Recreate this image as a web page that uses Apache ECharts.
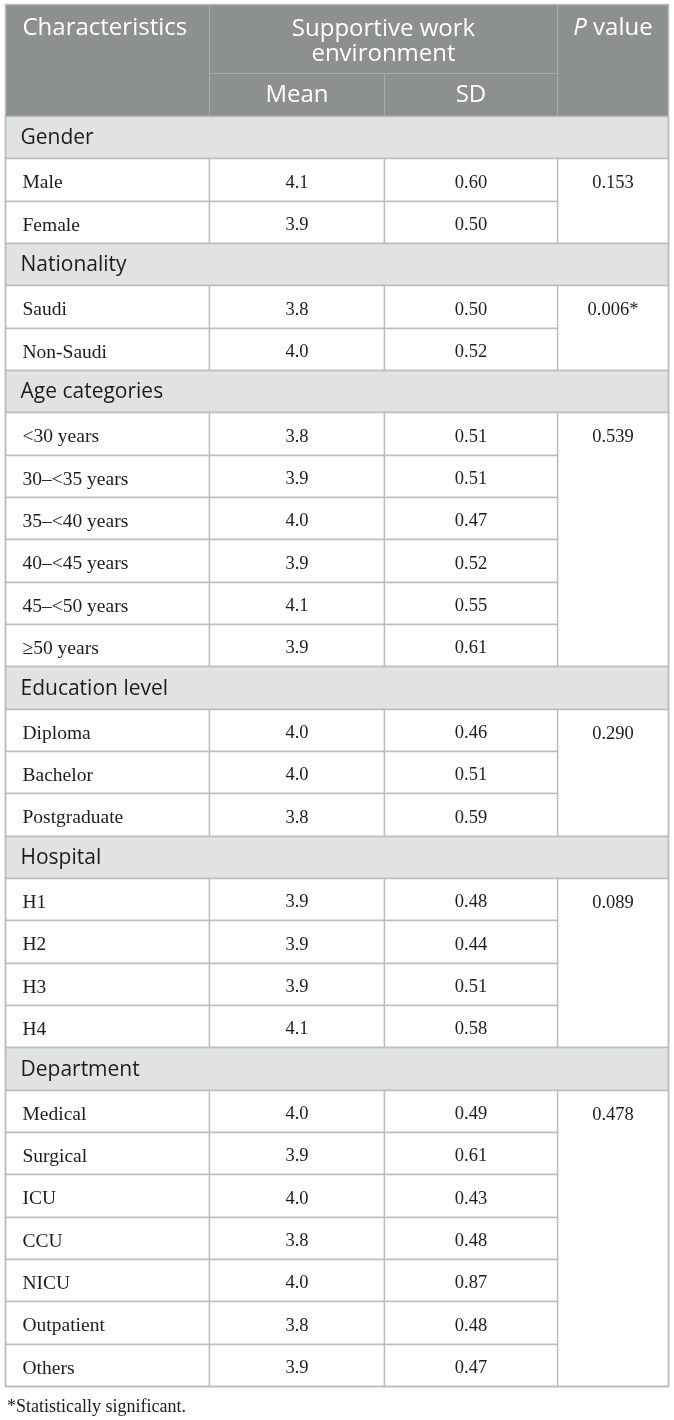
<!DOCTYPE html>
<html>
<head>
<meta charset="utf-8">
<script src="https://cdn.jsdelivr.net/npm/echarts@6/dist/echarts.min.js"></script>
<style>
html,body{margin:0;padding:0;background:#fff;}
#chart{width:674px;height:1420px;}
</style>
</head>
<body>
<div id="chart"></div>
<script>
// ---------------- data ----------------
const groupNames = ['Gender', 'Nationality', 'Age categories', 'Education level', 'Hospital', 'Department'];
const categories = ['Male', 'Female', 'Saudi', 'Non-Saudi',
  '<30 years', '30\u2013<35 years', '35\u2013<40 years', '40\u2013<45 years', '45\u2013<50 years', '\u226550 years',
  'Diploma', 'Bachelor', 'Postgraduate',
  'H1', 'H2', 'H3', 'H4',
  'Medical', 'Surgical', 'ICU', 'CCU', 'NICU', 'Outpatient', 'Others'];
const categoryGroup = [0, 0, 1, 1, 2, 2, 2, 2, 2, 2, 3, 3, 3, 4, 4, 4, 4, 5, 5, 5, 5, 5, 5, 5];
const meanValues = [4.1, 3.9, 3.8, 4.0, 3.8, 3.9, 4.0, 3.9, 4.1, 3.9, 4.0, 4.0, 3.8, 3.9, 3.9, 3.9, 4.1, 4.0, 3.9, 4.0, 3.8, 4.0, 3.8, 3.9];
const sdValues = [0.60, 0.50, 0.50, 0.52, 0.51, 0.51, 0.47, 0.52, 0.55, 0.61, 0.46, 0.51, 0.59, 0.48, 0.44, 0.51, 0.58, 0.49, 0.61, 0.43, 0.48, 0.87, 0.48, 0.47];
const groupPValues = ['0.153', '0.006*', '0.539', '0.290', '0.089', '0.478'];
const headerLabels = ['Characteristics', 'Supportive work\nenvironment', 'Mean', 'SD', 'P value'];
const footnote = '*Statistically significant.';

// ---------------- layout (not data) ----------------
const colEdges = [0, 204, 379, 552, 663];       // x-axis units
const HEADER_UNITS = 2.646;                      // header height in row units
const SUBHEADER_SPLIT = 1.63;                    // y of line under "Supportive work environment"
const SANS = '"Open Sans", "Noto Sans", sans-serif';
const SERIF = '"Liberation Serif", "DejaVu Serif", serif';
const HEAD_SIZE = 24, SECTION_SIZE = 21, LABEL_SIZE = 19.5, NUM_SIZE = 18.5, TEXT_SHIFT = 3;
const C = {
  header: '#8c9091', headerLine: '#a5a9aa', section: '#e1e3e2',
  border: '#bcbdbd', text: '#1c1c1c'
};

// build cell table
const cells = []; // [c0, c1, yStart, ySpan, kind, ref]
// kinds: 0 header-characteristics,1 header-swe,2 mean,3 sd,4 P value, 10 section,11 label,12 mean,13 sd,14 p
cells.push([0, 1, 0, HEADER_UNITS, 0, 0]);
cells.push([1, 3, 0, SUBHEADER_SPLIT, 1, 1]);
cells.push([1, 2, SUBHEADER_SPLIT, HEADER_UNITS - SUBHEADER_SPLIT, 2, 2]);
cells.push([2, 3, SUBHEADER_SPLIT, HEADER_UNITS - SUBHEADER_SPLIT, 3, 3]);
cells.push([3, 4, 0, HEADER_UNITS, 4, 4]);
let y = HEADER_UNITS;
groupNames.forEach((g, gi) => {
  cells.push([0, 4, y, 1, 10, gi]);
  y += 1;
  const idxs = categories.map((_, i) => i).filter(i => categoryGroup[i] === gi);
  cells.push([3, 4, y, idxs.length, 14, gi]);
  idxs.forEach(i => {
    cells.push([0, 1, y, 1, 11, i]);
    cells.push([1, 2, y, 1, 12, i]);
    cells.push([2, 3, y, 1, 13, i]);
    y += 1;
  });
});
const TOTAL_UNITS = y;

function renderCell(params, api) {
  const c0 = api.value(0), c1 = api.value(1), ys = api.value(2), span = api.value(3);
  const kind = api.value(4), ref = api.value(5);
  const p0 = api.coord([colEdges[c0], ys]);
  const p1 = api.coord([colEdges[c1], ys + span]);
  const x = Math.round(p0[0]) + 0.5, top = Math.round(p0[1]) + 0.5;
  const w = Math.round(p1[0]) - Math.round(p0[0]);
  const h = Math.round(p1[1]) - Math.round(p0[1]);
  const rowH = api.size([0, 1])[1];
  const isHeader = kind < 10;
  const rect = {
    type: 'rect',
    shape: { x: x, y: top, width: w, height: h },
    style: {
      fill: isHeader ? C.header : (kind === 10 ? C.section : '#ffffff'),
      stroke: isHeader ? C.headerLine : C.border,
      lineWidth: isHeader ? 1 : 1.4
    }
  };
  let text = null;
  if (kind === 0) {
    text = { x: x + 17, y: top + 24, text: headerLabels[0], align: 'left', font: SANS, size: HEAD_SIZE, color: '#ffffff' };
  } else if (kind === 1) {
    text = { x: x + w / 2, y: top + 37, text: headerLabels[1], align: 'center', font: SANS, size: HEAD_SIZE, color: '#ffffff', lh: 25 };
  } else if (kind === 2 || kind === 3) {
    text = { x: x + w / 2, y: top + h / 2, text: headerLabels[kind], align: 'center', font: SANS, size: HEAD_SIZE, color: '#ffffff' };
  } else if (kind === 4) {
    return {
      type: 'group', children: [rect, {
        type: 'text',
        style: {
          x: x + w / 2, y: top + 24, align: 'center', verticalAlign: 'middle',
          rich: {
            i: { fontFamily: SANS, fontSize: HEAD_SIZE, fontStyle: 'italic', fill: '#ffffff' },
            n: { fontFamily: SANS, fontSize: HEAD_SIZE, fill: '#ffffff' }
          },
          text: '{i|P}{n| value}'
        }
      }]
    };
  } else if (kind === 10) {
    text = { x: x + 15, y: top + h / 2 + 1, text: groupNames[ref], align: 'left', font: SANS, size: SECTION_SIZE, color: C.text };
  } else if (kind === 11) {
    text = { x: x + 17, y: top + h / 2 + TEXT_SHIFT, text: categories[ref], align: 'left', font: SERIF, size: LABEL_SIZE, color: C.text };
  } else if (kind === 12) {
    text = { x: x + w / 2, y: top + h / 2 + TEXT_SHIFT, text: meanValues[ref].toFixed(1), align: 'center', font: SERIF, size: NUM_SIZE, color: C.text };
  } else if (kind === 13) {
    text = { x: x + w / 2, y: top + h / 2 + TEXT_SHIFT, text: sdValues[ref].toFixed(2), align: 'center', font: SERIF, size: NUM_SIZE, color: C.text };
  } else if (kind === 14) {
    text = { x: x + w / 2, y: top + rowH / 2 + TEXT_SHIFT, text: groupPValues[ref], align: 'center', font: SERIF, size: NUM_SIZE, color: C.text };
  }
  const children = [rect];
  if (text) {
    children.push({
      type: 'text',
      style: {
        x: text.x, y: text.y, text: text.text, align: text.align, verticalAlign: 'middle',
        fontFamily: text.font, fontSize: text.size, fill: text.color, lineHeight: text.lh || undefined
      }
    });
  }
  return { type: 'group', children: children };
}

function renderBorder(params, api) {
  const p0 = api.coord([colEdges[0], 0]);
  const p1 = api.coord([colEdges[colEdges.length - 1], TOTAL_UNITS]);
  return {
    type: 'rect',
    shape: { x: Math.round(p0[0]) + 0.5, y: Math.round(p0[1]) + 0.5, width: Math.round(p1[0]) - Math.round(p0[0]), height: Math.round(p1[1]) - Math.round(p0[1]) },
    style: { fill: null, stroke: C.border, lineWidth: 1.6 }
  };
}

const chart = echarts.init(document.getElementById('chart'), null, { renderer: 'canvas' });
chart.setOption({
  animation: false,
  backgroundColor: '#ffffff',
  title: {
    text: footnote, left: 2, top: 1393,
    textStyle: { fontFamily: SERIF, fontSize: 18, fontWeight: 'normal', color: C.text }
  },
  grid: { left: 5, right: 6, top: 4, bottom: 34 },
  xAxis: { type: 'value', min: 0, max: colEdges[colEdges.length - 1], show: false },
  yAxis: { type: 'value', min: 0, max: TOTAL_UNITS, inverse: true, show: false },
  series: [
    { type: 'custom', renderItem: renderCell, data: cells, silent: true, clip: false, z: 2 },
    { type: 'custom', renderItem: renderBorder, data: [[0]], silent: true, clip: false, z: 3 }
  ]
});
</script>
</body>
</html>
